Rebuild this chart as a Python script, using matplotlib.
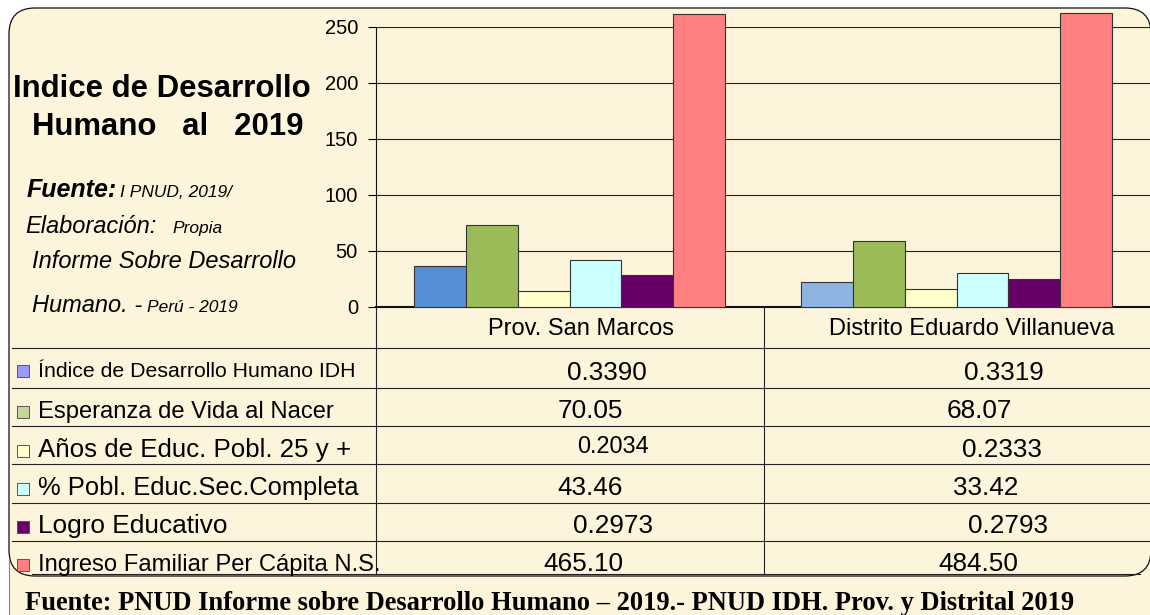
import matplotlib as mpl
mpl.use('Agg')
import matplotlib.pyplot as plt
from matplotlib.patches import FancyBboxPatch, Rectangle
import numpy as np

plt.rcParams['font.family'] = ['Liberation Sans', 'DejaVu Sans']

# ---- data ----
categories = ["Prov. San Marcos", "Distrito Eduardo Villanueva"]
series_names = ["Índice de Desarrollo Humano IDH",
                "Esperanza de Vida al Nacer",
                "Años de Educ. Pobl. 25 y +",
                "% Pobl. Educ.Sec.Completa",
                "Logro Educativo",
                "Ingreso Familiar Per Cápita N.S."]

# bar heights as drawn in the chart
idh_bar = [36.3, 22.3]
vida_bar = [73.2, 58.9]
educ_bar = [14.6, 16.1]
sec_bar = [42.3, 30.4]
logro_bar = [28.6, 25.0]
ingreso_bar = [261.3, 262.9]

# values printed in the data table
idh_txt = ["0.3390", "0.3319"]
vida_txt = ["70.05", "68.07"]
educ_txt = ["0.2034", "0.2333"]
sec_txt = ["43.46", "33.42"]
logro_txt = ["0.2973", "0.2793"]
ingreso_txt = ["465.10", "484.50"]

yticks = [0, 50, 100, 150, 200, 250]

bars = [idh_bar, vida_bar, educ_bar, sec_bar, logro_bar, ingreso_bar]
table_txt = [idh_txt, vida_txt, educ_txt, sec_txt, logro_txt, ingreso_txt]

# ---- styles ----
bar_colors = [["#558ED5", "#8DB4E2"], ["#9BBB59", "#9BBB59"], ["#FFFFCC", "#FFFFCC"],
              ["#CCFFFF", "#CCFFFF"], ["#660066", "#660066"], ["#FF8080", "#FF8080"]]
key_colors = ["#9999FF", "#C4D79B", "#FFFFCC", "#CCFFFF", "#660066", "#FF8080"]
parchment = "#FCF4DB"
W, H = 1150, 615

fig = plt.figure(figsize=(11.5, 6.15), dpi=100)
fig.patch.set_facecolor("white")

# background / layout layer in pixel coordinates
bg = fig.add_axes([0, 0, 1, 1], zorder=0)
bg.set_xlim(0, W)
bg.set_ylim(H, 0)
bg.axis('off')
bg.add_patch(Rectangle((9, 45), W - 9, H - 45, fc=parchment, ec='none'))
bg.add_patch(FancyBboxPatch((9, 8), 1142, 568, boxstyle="round,pad=0,rounding_size=26",
                            fc=parchment, ec='#111111', lw=0.9))
bg.plot([9, 9], [560, H], color='#888888', lw=0.8)

# table lines
line_c = '#222222'
row_y = [347.7, 387.7, 426, 464.3, 502.7, 541]
for y in row_y:
    bg.plot([12, W], [y, y], color=line_c, lw=0.8)
bg.plot([32, 1140], [573.8, 573.8], color=line_c, lw=0.8)
bg.plot([376, 376], [307, 574], color=line_c, lw=0.8)
bg.plot([764, 764], [307, 574], color=line_c, lw=0.8)

# headers
hdr_x = [581, 971.5]
for cx, name in zip(hdr_x, categories):
    bg.text(cx, 335, name, ha='center', va='baseline', fontsize=17)

# row labels with keys
lab_base = [377, 418, 457, 495, 533, 571]
lab_size = [15.3, 17.1, 18.6, 18.4, 18.9, 17.1]
for i, name in enumerate(series_names):
    bg.add_patch(Rectangle((17, lab_base[i] - 12.5), 12, 12, fc=key_colors[i],
                           ec='#555555', lw=0.7))
    bg.text(37.5, lab_base[i], name, ha='left', va='baseline', fontsize=lab_size[i])

# table values
val_x = [[607, 1003.5], [590, 979.5], [613, 1002], [590, 985.5], [613, 1008], [583, 978]]
val_y = [[380, 380], [418, 418], [453, 457], [495, 495], [533, 533], [571, 571]]
val_size = [[18.8, 18.8], [18.8, 18.8], [16.9, 18.8], [18.8, 18.8], [18.8, 18.8], [18.8, 18.8]]
for i in range(len(table_txt)):
    for j in range(len(categories)):
        bg.text(val_x[i][j], val_y[i][j], table_txt[i][j], ha='center', va='baseline',
                fontsize=val_size[i][j])

# title block on the left
bg.text(13, 97, "Indice de Desarrollo", fontsize=22.4, fontweight='bold', va='baseline')
bg.text(32, 135, "Humano   al   2019", fontsize=22.4, fontweight='bold', va='baseline')
bg.text(27, 197, "Fuente:", fontsize=18, fontweight='bold', fontstyle='italic', va='baseline')
bg.text(120, 197, "I PNUD, 2019/", fontsize=12.5, fontstyle='italic', va='baseline')
bg.text(25, 233, "Elaboración:", fontsize=17, fontstyle='italic', va='baseline')
bg.text(172, 233, "Propia", fontsize=12.5, fontstyle='italic', va='baseline')
bg.text(32, 268, "Informe Sobre Desarrollo", fontsize=17, fontstyle='italic', va='baseline')
bg.text(32, 312, "Humano. -", fontsize=17, fontstyle='italic', va='baseline')
bg.text(147, 312, "Perú - 2019", fontsize=12.5, fontstyle='italic', va='baseline')

# footnote
bg.text(25, 610, "Fuente: PNUD Informe sobre Desarrollo Humano \u2013 2019.- PNUD IDH. Prov. y Distrital 2019",
        fontsize=19.1, fontweight='bold', family=['Liberation Serif', 'DejaVu Serif'], va='baseline')

# ---- bar chart ----
ax = fig.add_axes([376 / W, (H - 307) / H, (W - 376) / W, 280 / H], zorder=1)
ax.patch.set_alpha(0)
x = np.arange(len(categories))
bw = 0.1336
n = len(bars)
for i, vals in enumerate(bars):
    offs = (i - (n - 1) / 2) * bw
    ax.bar(x + offs, vals, width=bw, color=bar_colors[i], edgecolor='#333333',
           linewidth=0.8, clip_on=False, zorder=3)

ax.set_xlim(-0.5, 1.5)
ax.set_ylim(0, 250)
ax.set_yticks(yticks)
ax.set_xticks([])
ax.yaxis.grid(True, color='#222222', lw=0.8)
ax.set_axisbelow(True)
for s in ['top', 'right']:
    ax.spines[s].set_visible(False)
ax.spines['left'].set_color('#111111')
ax.spines['left'].set_linewidth(0.8)
ax.spines['bottom'].set_color('#111111')
ax.spines['bottom'].set_linewidth(1.5)
ax.tick_params(axis='y', direction='out', length=6, width=0.8, pad=7, labelsize=14.5)

fig.savefig("out.png", dpi=100, facecolor=fig.get_facecolor())
